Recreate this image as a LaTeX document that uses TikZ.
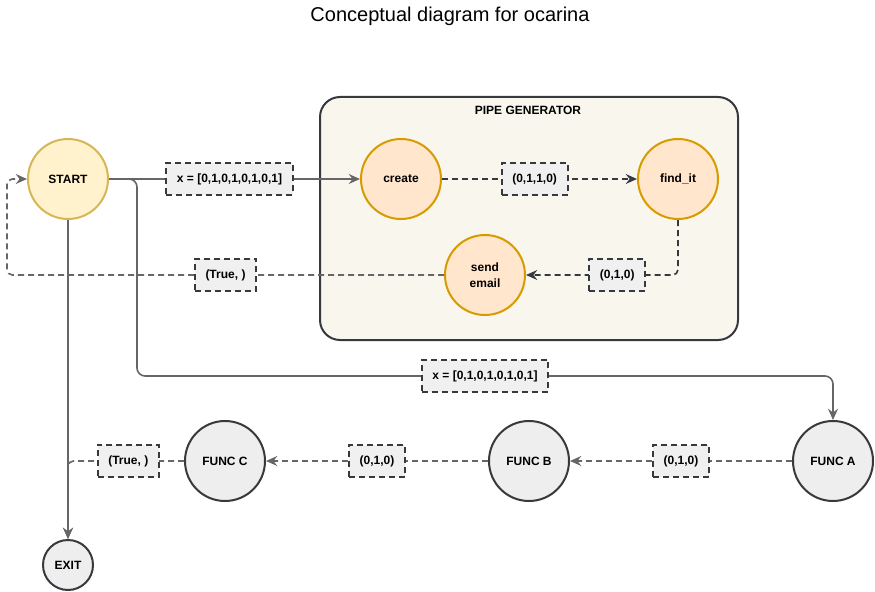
\documentclass[tikz,border=0pt]{standalone}
\usepackage{fontspec}
\setmainfont{Liberation Sans}
\usetikzlibrary{positioning,arrows.meta}
\definecolor{ocstartfill}{HTML}{FFF2CC}
\definecolor{ocstartline}{HTML}{D6B656}
\definecolor{ocpipefill}{HTML}{FFE6CC}
\definecolor{ocpipeline}{HTML}{D79B00}
\definecolor{ocfuncfill}{HTML}{EEEEEE}
\definecolor{ocdark}{HTML}{36393D}
\definecolor{ocgen}{HTML}{F9F7ED}
\definecolor{oclbl}{HTML}{F0F0F0}
\definecolor{ocgray}{HTML}{666666}

\begin{document}
\begin{tikzpicture}[x=0.75pt,y=-0.75pt,>={Stealth[length=8.5pt,width=7.5pt,inset=3pt]},
  font=\bfseries\fontsize{9}{12}\selectfont,
  startstate/.style={circle,draw=ocstartline,fill=ocstartfill,line width=1.5pt,minimum size=60pt,inner sep=0pt},
  pipestate/.style={circle,draw=ocpipeline,fill=ocpipefill,line width=1.5pt,minimum size=60pt,inner sep=0pt,align=center},
  funcstate/.style={circle,draw=ocdark,fill=ocfuncfill,line width=1.5pt,minimum size=60pt,inner sep=0pt},
  edgelbl/.style={draw=ocdark,fill=oclbl,solid,sharp corners,line width=1.5pt,dash pattern=on 4.5pt off 3pt,minimum height=24pt,inner xsep=8pt,text=black},
  solidflow/.style={->,draw=ocgray,line width=1.2pt},
  dashflow/.style={->,draw=ocgray,line width=1.2pt,dash pattern=on 4.5pt off 3pt},
  darkflow/.style={->,draw=ocdark,line width=1.2pt,dash pattern=on 4.5pt off 3pt}]
  \useasboundingbox[fill=white] (0,0) rectangle (875,592);
  \node[font=\normalfont\fontsize{15}{18}\selectfont] (title) at (450,16) {Conceptual diagram for ocarina};
  % pipe generator group
  \draw[draw=ocdark,fill=ocgen,line width=1.5pt,rounded corners=15pt] (320,97) rectangle (738,340);
  \node (gentitle) at (528,110) {PIPE GENERATOR};
  \node[startstate] (start) at (68,179) {START};
  \node[pipestate,right=188.25pt of start] (create) {create};
  \node[pipestate,right=146.25pt of create] (findit) {find\_it};
  \node[pipestate] (sendmail) at (485,275) {send\\email};
  \node[funcstate] (funca) at (833,461) {FUNC A};
  \node[funcstate,left=166.5pt of funca] (funcb) {FUNC B};
  \node[funcstate,left=166.5pt of funcb] (funcc) {FUNC C};
  \node[funcstate,minimum size=37.5pt,below=239.25pt of start] (exitn) {EXIT};
  \draw[solidflow] (start) -- node[edgelbl,pos=0.48] {x = [0,1,0,1,0,1,0,1]} (create);
  \draw[darkflow] (create) -- node[edgelbl,pos=0.475] {(0,1,1,0)} (findit);
  \draw[darkflow,rounded corners=4pt] (findit.south) |- node[edgelbl,pos=0.7] {(0,1,0)} (sendmail.east);
  \draw[dashflow,rounded corners=4pt] (sendmail.west) -- node[edgelbl] {(True, )} ++(-437,0) |- (start.west);
  \draw[solidflow,rounded corners=6pt] (start.east) -- ++(28,0) -- ++(0,197) -| node[edgelbl,pos=0.25] {x = [0,1,0,1,0,1,0,1]} (funca.north);
  \draw[solidflow] (start) -- (exitn);
  \draw[dashflow] (funca) -- node[edgelbl] {(0,1,0)} (funcb);
  \draw[dashflow] (funcb) -- node[edgelbl] {(0,1,0)} (funcc);
  \draw[dashflow,rounded corners=4pt] (funcc.west) -| node[edgelbl,pos=0.24] {(True, )} (exitn.north);
\end{tikzpicture}
\end{document}
